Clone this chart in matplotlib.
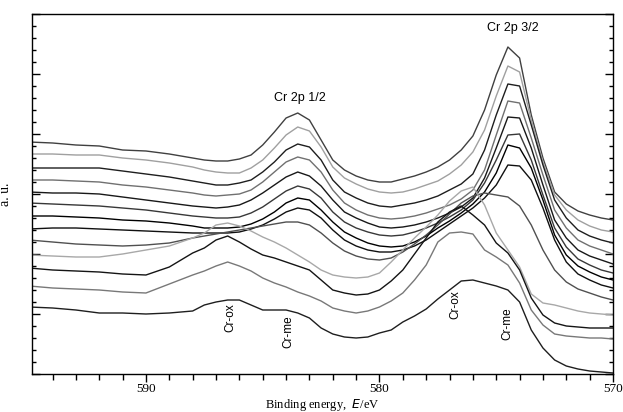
import matplotlib
matplotlib.use("Agg")
import matplotlib.pyplot as plt
from matplotlib.ticker import MultipleLocator

# binding energy grid (eV), shared by all spectra
energy = [595, 594, 593, 592, 591, 590, 589, 588,
          587.5, 587, 586.5, 586, 585.5, 585, 584.5, 584, 583.5, 583,
          582.5, 582, 581.5, 581, 580.5, 580, 579.5, 579, 578.5, 578,
          577.5, 577, 576.5, 576, 575.5, 575, 574.5, 574, 573.5, 573,
          572.5, 572, 571.5, 571, 570.5, 570]

# intensities (a.u.), top spectrum (metal) first, bottom (oxide) last
s1 = [232, 231, 229, 228, 224, 223, 220, 216,
      214, 213, 213, 215, 219, 229, 242, 256, 261, 254,
      234, 214, 204, 198, 194, 192, 192, 195, 198, 202,
      207, 214, 224, 238, 264, 299, 327, 316, 259, 216,
      182, 170, 163, 159, 156, 154]
s2 = [220, 220, 219, 219, 216, 214, 211, 207,
      204, 202, 201, 201, 206, 214, 226, 239, 247, 243,
      227, 207, 196, 190, 185, 182, 181, 182, 185, 189,
      193, 200, 209, 222, 244, 278, 308, 302, 254, 212,
      179, 164, 154, 148, 144, 142]
s3 = [206, 206, 206, 206, 203, 200, 197, 193,
      191, 189, 189, 191, 194, 202, 212, 224, 230, 227,
      214, 194, 182, 176, 171, 168, 167, 169, 171, 174,
      178, 184, 190, 200, 224, 259, 290, 288, 249, 209,
      174, 156, 144, 138, 134, 131]
s4 = [194, 194, 193, 192, 189, 187, 184, 181,
      179, 178, 179, 180, 184, 192, 202, 212, 217, 214,
      202, 184, 171, 164, 159, 156, 155, 156, 158, 161,
      165, 169, 175, 184, 204, 239, 273, 271, 236, 199,
      164, 146, 134, 128, 124, 120]
s5 = [182, 181, 181, 180, 177, 174, 171, 168,
      167, 166, 167, 169, 174, 181, 189, 197, 202, 198,
      188, 174, 162, 156, 151, 147, 146, 147, 149, 152,
      156, 161, 167, 176, 196, 226, 257, 256, 226, 189,
      154, 136, 124, 118, 114, 110]
s6 = [171, 170, 169, 168, 166, 164, 161, 158,
      157, 156, 156, 157, 161, 167, 175, 183, 188, 185,
      176, 162, 152, 146, 142, 139, 138, 139, 142, 146,
      151, 157, 164, 174, 191, 214, 239, 240, 214, 179,
      146, 127, 115, 109, 104, 101]
s7 = [158, 158, 157, 156, 154, 153, 151, 148,
      146, 146, 146, 147, 150, 155, 162, 171, 176, 174,
      164, 152, 142, 136, 131, 128, 127, 128, 132, 138,
      146, 153, 161, 170, 182, 201, 229, 226, 206, 174,
      139, 119, 108, 102, 97, 94]
s8 = [145, 146, 146, 145, 144, 143, 142, 141,
      141, 141, 141, 142, 145, 149, 155, 162, 166, 164,
      156, 144, 134, 128, 124, 122, 122, 124, 128, 134,
      142, 150, 158, 166, 176, 189, 209, 208, 194, 166,
      134, 112, 100, 94, 89, 86]
s9 = [134, 132, 130, 129, 128, 129, 131, 136,
      138, 140, 142, 144, 146, 148, 150, 152, 152, 149,
      141, 131, 123, 118, 115, 114, 116, 122, 130, 139,
      149, 160, 171, 178, 181, 179, 177, 168, 149, 124,
      104, 92, 85, 81, 77, 74]
s10 = [119, 118, 117, 117, 120, 124, 128, 136,
       141, 149, 151, 148, 143, 137, 132, 126, 119, 112,
       104, 99, 97, 96, 97, 101, 112, 124, 136, 147,
       159, 173, 183, 187, 169, 141, 124, 107, 80, 71,
       69, 66, 63, 61, 60, 59]
s11 = [106, 104, 103, 102, 100, 99, 107, 121,
       126, 134, 138, 132, 125, 119, 116, 112, 108, 104,
       94, 84, 81, 79, 80, 84, 93, 104, 120, 136,
       152, 162, 168, 159, 149, 131, 121, 104, 76, 59,
       51, 48, 47, 46, 46, 46]
s12 = [88, 86, 85, 84, 82, 81, 90, 99,
       103, 108, 112, 108, 103, 96, 91, 87, 82, 78,
       73, 66, 63, 61, 63, 67, 73, 81, 94, 109,
       132, 141, 142, 140, 124, 117, 109, 91, 64, 49,
       40, 38, 37, 36, 36, 35]
s13 = [67, 66, 64, 61, 61, 60, 61, 63,
       69, 72, 74, 74, 69, 64, 64, 64, 61, 56,
       46, 40, 37, 36, 37, 41, 44, 52, 58, 65,
       75, 84, 93, 94, 91, 88, 84, 72, 44, 26,
       14, 8, 5, 3, 2, 1]

spectra = [s1, s2, s3, s4, s5, s6, s7, s8, s9, s10, s11, s12, s13]
colors = ["#404040", "#a0a0a0", "#1e1e1e", "#707070", "#181818", "#383838",
          "#000000", "#101010", "#505050", "#a8a8a8", "#141414", "#787878",
          "#1e1e1e"]

fig = plt.figure(figsize=(6.23, 4.12), dpi=100)
ax = fig.add_axes([32 / 623, 1 - 374 / 412, 581 / 623, 360 / 412])

for s, c in zip(spectra, colors):
    ax.plot(energy, s, color=c, lw=1.0)

ax.set_xlim(594.88, 570)
ax.set_ylim(0, 360)

ax.xaxis.set_major_locator(MultipleLocator(10))
ax.xaxis.set_minor_locator(MultipleLocator(1))
ax.yaxis.set_major_locator(MultipleLocator(60))
ax.yaxis.set_minor_locator(MultipleLocator(12))
ax.tick_params(axis="x", which="both", direction="out", bottom=True, top=False)
ax.tick_params(axis="x", which="major", length=6, width=1)
ax.tick_params(axis="x", which="minor", length=4, width=1)
ax.tick_params(axis="y", which="both", direction="in", left=True, right=True,
               labelleft=False)
ax.tick_params(axis="y", which="major", length=6, width=1)
ax.tick_params(axis="y", which="minor", length=3, width=1)
for lab in ax.get_xticklabels():
    lab.set_fontfamily("Liberation Serif")
    lab.set_fontsize(9.5)
ax.tick_params(axis="x", pad=0.5)
for sp in ax.spines.values():
    sp.set_linewidth(1.0)

ax.set_xlabel("Binding energy,  $E$/eV", family="Liberation Serif", fontsize=9)
ax.xaxis.set_label_coords(0.5, -0.064)
ax.set_ylabel("a. u.", family="Liberation Serif", fontsize=10)
ax.yaxis.set_label_coords(-0.034, 0.5)

sans = "Liberation Sans"
ax.text(583.4, 276, "Cr 2p 1/2", family=sans, fontsize=9, ha="center", va="center")
ax.text(574.28, 346, "Cr 2p 3/2", family=sans, fontsize=9, ha="center", va="center")
ax.text(586.4, 56, "Cr-ox", family=sans, fontsize=8.5, rotation=90, ha="center", va="center")
ax.text(583.92, 42, "Cr-me", family=sans, fontsize=8.5, rotation=90, ha="center", va="center")
ax.text(576.77, 69, "Cr-ox", family=sans, fontsize=8.5, rotation=90, ha="center", va="center")
ax.text(574.54, 50, "Cr-me", family=sans, fontsize=8.5, rotation=90, ha="center", va="center")

fig.savefig("out.png", dpi=100)
